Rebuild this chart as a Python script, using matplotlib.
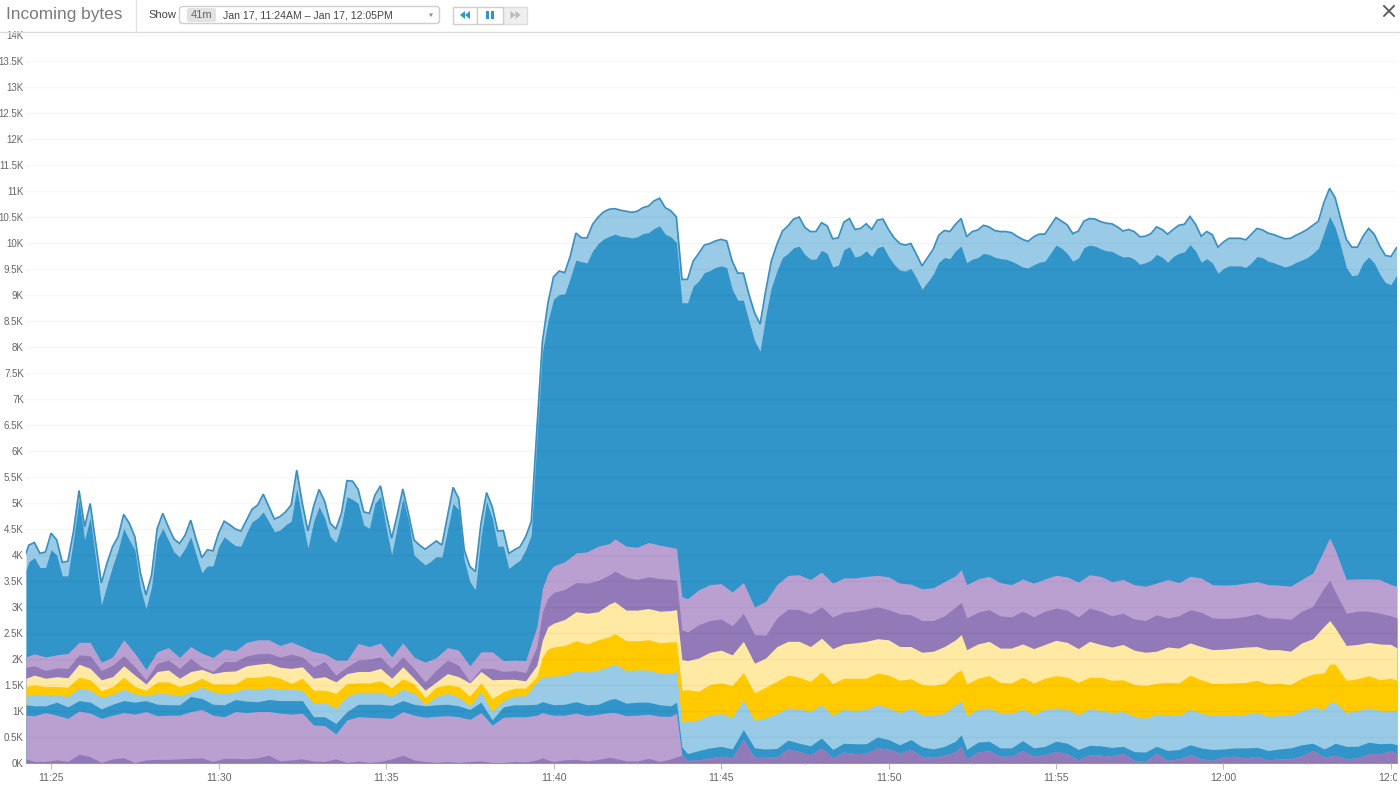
import numpy as np
import matplotlib
matplotlib.use('Agg')
import matplotlib.pyplot as plt
from matplotlib.patches import FancyBboxPatch, Rectangle, Polygon
from matplotlib.transforms import Bbox

plt.rcParams['font.family'] = ['Liberation Sans', 'DejaVu Sans']

# minutes after 11:00, top two edges are sampled every 10s
t_top = np.r_[24.25, np.arange(146, 392) / 6]
# the lower edges are read every 20s or so
t_low = np.r_[24.25, (np.arange(73, 119) + 0.5) / 3,
              39.67, 39.83, 40, 40.33, 40.67, 41, 41.33, 41.67, 41.83, 42.17, 42.5, 42.83, 43.17, 43.5, 43.67, 43.83,
              np.sort(np.r_[np.arange(132, 196) / 3, 52.17, 63.17, 65.18])]

# all values are the stacked edges in K
total_top = [4.03,
    4.19,4.24,4.03,4.06,4.42,4.29, 3.86,3.88,4.45,5.24,4.54,4.99, 4.22,3.46,3.84,4.16,4.35,4.78,
    4.61,4.35,3.65,3.23,3.62,4.51, 4.8,4.54,4.31,4.22,4.38,4.67, 4.29,3.95,4.1,4.08,4.42,4.65,
    4.58,4.5,4.46,4.67,4.88,4.96, 5.17,4.93,4.69,4.74,4.83,4.96, 5.63,4.99,4.46,4.93,5.26,5.03,
    4.61,4.5,4.8,5.43,5.42,5.26, 4.83,4.8,5.15,5.33,4.8,4.32, 4.77,5.27,4.8,4.29,4.19,4.11,
    4.19,4.27,4.19,4.74,5.3,5.09, 4.1,3.78,3.68,4.61,5.2,4.93, 4.46,4.47,4.03,4.1,4.16,4.35,
    4.64,6.4,8.1,8.85,9.35,9.46, 9.43,9.75,10.19,10.1,10.1,10.36, 10.5,10.6,10.65,10.66,10.63,10.61,
    10.59,10.61,10.68,10.71,10.81,10.86, 10.68,10.62,10.5,9.3,9.3,9.65, 9.8,9.96,9.99,10.04,10.07,10.04,
    9.65,9.42,9.42,9.01,8.66,8.44, 9.08,9.65,9.97,10.23,10.33,10.46, 10.5,10.3,10.22,10.22,10.39,10.33,
    10.08,10.1,10.4,10.47,10.26,10.28, 10.37,10.26,10.44,10.46,10.26,10.1, 9.99,9.96,9.99,9.78,9.56,9.72,
    9.88,10.15,10.24,10.22,10.36,10.47, 10.12,10.22,10.25,10.34,10.31,10.24, 10.22,10.22,10.2,10.13,10.07,10.03,
    10.12,10.17,10.17,10.33,10.49,10.42, 10.35,10.18,10.23,10.42,10.47,10.46, 10.41,10.38,10.37,10.31,10.23,10.26,
    10.22,10.12,10.13,10.18,10.31,10.26, 10.17,10.26,10.34,10.36,10.51,10.36, 10.13,10.22,10.16,9.92,10.02,10.09,
    10.09,10.09,10.06,10.17,10.28,10.25, 10.19,10.16,10.12,10.08,10.09,10.15, 10.2,10.26,10.34,10.42,10.78,11.05,
    10.87,10.46,10.07,9.92,9.92,10.13, 10.28,10.17,9.94,9.76,9.74,9.91]

blue_top = [3.71,
    3.87,3.95,3.76,3.76,4.1,4.0, 3.6,3.6,4.29,5.06,4.29,4.72, 3.9,3.04,3.42,3.78,4.1,4.51,
    4.29,4.1,3.36,2.97,3.39,4.29, 4.51,4.29,4.06,3.96,4.13,4.35, 4.0,3.66,3.79,3.79,4.16,4.35,
    4.26,4.18,4.17,4.42,4.64,4.71, 4.83,4.64,4.45,4.48,4.58,4.65, 5.28,4.67,4.13,4.64,4.93,4.71,
    4.35,4.24,4.58,5.12,5.07,4.99, 4.58,4.51,4.99,5.12,4.54,4.0, 4.54,5.09,4.67,4.0,3.9,3.81,
    3.88,3.97,3.96,4.48,4.99,4.87, 3.9,3.49,3.33,4.35,5.03,4.71, 4.17,4.17,3.74,3.83,3.9,4.1,
    4.38,6.2,7.9,8.5,8.92,9.01, 9.02,9.33,9.67,9.64,9.62,9.85, 9.99,10.08,10.13,10.17,10.13,10.12,
    10.1,10.12,10.18,10.2,10.28,10.33, 10.17,10.12,10.01,8.85,8.85,9.17, 9.27,9.43,9.47,9.53,9.56,9.53,
    9.11,8.9,8.9,8.5,8.12,7.92, 8.6,9.14,9.46,9.72,9.8,9.91, 9.94,9.78,9.69,9.69,9.86,9.8,
    9.54,9.57,9.87,9.93,9.73,9.76, 9.85,9.74,9.91,9.94,9.74,9.59, 9.48,9.46,9.51,9.33,9.11,9.25,
    9.4,9.63,9.72,9.7,9.85,9.94, 9.62,9.69,9.72,9.8,9.78,9.73, 9.7,9.69,9.65,9.6,9.54,9.52,
    9.58,9.63,9.65,9.8,9.96,9.9, 9.8,9.65,9.71,9.91,9.96,9.94, 9.89,9.85,9.84,9.78,9.73,9.74,
    9.69,9.59,9.62,9.67,9.78,9.73, 9.63,9.74,9.8,9.83,9.97,9.85, 9.63,9.7,9.62,9.42,9.51,9.56,
    9.56,9.56,9.53,9.62,9.74,9.72, 9.65,9.62,9.58,9.54,9.57,9.63, 9.67,9.72,9.8,9.9,10.2,10.51,
    10.3,9.94,9.53,9.37,9.39,9.62, 9.73,9.62,9.4,9.24,9.2,9.38]

lilac_top = [2.04,2.1,2.04,2.08,2.11,2.32,2.32,1.94,2.04,2.37,2.11,1.8,2.14,2.22,2.03,2.24,2.11,2.03,2.19,2.16,2.32,2.37,2.37,2.26,2.33,2.24,2.14,2.1,1.98,1.98,
    2.3,2.24,2.31,2.04,2.31,2.04,1.94,2.03,2.22,2.17,1.87,2.14,2.14,1.97,1.98,1.97,2.62,
    3.36,3.65,3.79,3.87,4.04,4.06,4.17,4.22,4.31,4.17,4.15,4.24,4.19,4.15,4.13,3.2,
    3.16,3.33,3.43,3.45,3.29,3.47,3.0,3.11,3.43,3.61,3.62,3.53,3.67,3.46,3.56,3.56,3.59,3.61,3.58,3.46,3.44,3.35,3.37,3.49,3.6,3.72,3.43,3.54,3.59,3.47,3.43,3.54,
    3.46,3.54,3.61,3.58,3.48,3.62,3.59,3.49,3.53,3.43,3.4,3.46,3.53,3.47,3.59,3.56,3.43,3.42,3.43,3.46,3.49,3.43,3.42,3.4,3.53,3.65,4.1,4.33,4.1,3.53,3.54,3.54,3.53,3.43,3.4]

purple_top = [1.84,1.87,1.78,1.83,1.82,2.08,2.06,1.78,1.88,2.06,1.85,1.6,1.92,1.98,1.82,2.01,1.85,1.76,1.95,1.95,2.06,2.1,2.11,2.04,2.09,2.04,1.85,1.95,1.69,1.85,
    1.98,2.0,2.04,1.82,2.04,1.82,1.56,1.79,1.98,1.88,1.56,1.82,1.82,1.76,1.78,1.74,2.24,
    2.91,3.17,3.28,3.34,3.47,3.46,3.51,3.62,3.69,3.57,3.53,3.58,3.55,3.53,3.51,2.56,
    2.52,2.66,2.74,2.77,2.64,2.88,2.47,2.46,2.79,2.96,2.95,2.87,3.0,2.81,2.9,2.92,2.96,3.0,2.95,2.87,2.85,2.74,2.74,2.83,3.0,3.09,2.79,2.9,2.95,2.83,2.81,2.92,
    2.81,2.92,2.98,2.94,2.81,2.98,2.92,2.83,2.88,2.77,2.74,2.85,2.79,2.83,2.95,2.9,2.79,2.78,2.79,2.82,2.87,2.79,2.79,2.76,2.92,3.01,3.37,3.51,3.3,2.88,2.92,2.92,2.88,2.83,2.79]

pale_top = [1.63,1.69,1.63,1.66,1.64,1.9,1.82,1.6,1.66,1.87,1.69,1.52,1.76,1.79,1.63,1.76,1.8,1.72,1.76,1.77,1.87,1.9,1.92,1.84,1.82,1.85,1.63,1.66,1.56,1.72,
    1.76,1.76,1.82,1.63,1.85,1.63,1.4,1.56,1.72,1.66,1.54,1.76,1.6,1.61,1.61,1.58,1.88,
    2.37,2.62,2.69,2.76,2.91,2.88,2.91,3.06,3.1,2.94,2.94,2.97,2.92,2.93,2.95,1.99,
    1.97,2.02,2.13,2.17,2.08,2.34,1.92,2.02,2.24,2.34,2.34,2.24,2.4,2.2,2.29,2.31,2.34,2.39,2.37,2.24,2.24,2.13,2.15,2.24,2.37,2.47,2.18,2.29,2.34,2.21,2.21,2.29,
    2.2,2.28,2.36,2.32,2.2,2.34,2.28,2.23,2.28,2.17,2.13,2.15,2.23,2.21,2.31,2.24,2.18,2.19,2.21,2.23,2.24,2.18,2.18,2.15,2.31,2.39,2.63,2.74,2.6,2.26,2.28,2.32,2.29,2.28,2.21]

gold_top = [1.47,1.5,1.47,1.47,1.46,1.65,1.6,1.39,1.47,1.65,1.47,1.4,1.56,1.56,1.47,1.53,1.63,1.52,1.52,1.52,1.65,1.65,1.68,1.63,1.53,1.63,1.4,1.4,1.34,1.53,
    1.54,1.54,1.58,1.45,1.62,1.52,1.26,1.46,1.5,1.47,1.29,1.54,1.24,1.37,1.44,1.44,1.66,
    2.04,2.19,2.23,2.26,2.35,2.29,2.37,2.43,2.49,2.35,2.35,2.37,2.31,2.33,2.33,1.4,
    1.41,1.38,1.51,1.54,1.49,1.74,1.35,1.46,1.57,1.69,1.65,1.57,1.75,1.53,1.63,1.63,1.63,1.73,1.69,1.59,1.62,1.51,1.49,1.53,1.73,1.79,1.52,1.63,1.68,1.55,1.54,1.65,
    1.54,1.63,1.68,1.65,1.55,1.65,1.65,1.59,1.6,1.51,1.49,1.53,1.55,1.54,1.69,1.6,1.53,1.53,1.54,1.55,1.59,1.52,1.53,1.51,1.63,1.71,1.73,1.9,1.9,1.59,1.62,1.68,1.6,1.63,1.59]

sky_top = [1.29,1.32,1.32,1.31,1.28,1.44,1.4,1.26,1.32,1.42,1.33,1.29,1.34,1.33,1.29,1.37,1.46,1.37,1.34,1.37,1.44,1.42,1.45,1.42,1.42,1.4,1.15,1.17,1.05,1.28,
    1.36,1.36,1.36,1.28,1.42,1.34,1.12,1.28,1.34,1.27,1.1,1.37,0.99,1.2,1.29,1.29,1.56,
    1.66,1.67,1.67,1.69,1.78,1.75,1.79,1.86,1.91,1.78,1.79,1.79,1.73,1.73,1.76,0.79,
    0.8,0.83,0.93,0.95,0.88,1.21,0.82,0.87,0.95,1.06,1.04,0.99,1.12,0.92,1.03,1.01,1.03,1.12,1.06,0.97,1.06,0.92,0.92,0.96,1.12,1.19,0.91,1.03,1.06,0.96,0.95,1.04,
    0.93,1.03,1.06,1.03,0.93,1.04,1.01,0.97,0.99,0.9,0.86,0.94,0.93,0.91,1.03,0.96,0.91,0.92,0.92,0.94,0.97,0.9,0.91,0.92,1.01,1.07,1.04,1.17,1.17,0.97,1.01,1.06,1.01,1.01,1.01]

steel_top = [1.12,1.1,1.1,1.17,1.08,1.2,1.17,1.04,1.13,1.2,1.17,1.2,1.13,1.12,1.12,1.28,1.24,1.13,1.12,1.22,1.19,1.18,1.22,1.2,1.2,1.2,0.89,0.89,0.76,0.99,
    1.13,1.13,1.13,1.11,1.2,1.13,1.1,1.12,1.13,1.1,1.03,1.17,0.83,1.08,1.12,1.12,1.13,
    1.18,1.15,1.12,1.13,1.18,1.12,1.13,1.22,1.24,1.15,1.17,1.17,1.12,1.1,1.17,0.31,
    0.18,0.24,0.29,0.32,0.27,0.64,0.29,0.27,0.28,0.44,0.38,0.33,0.48,0.26,0.38,0.37,0.37,0.5,0.45,0.35,0.45,0.31,0.27,0.32,0.42,0.54,0.26,0.4,0.42,0.29,0.29,0.43,
    0.29,0.32,0.42,0.38,0.26,0.34,0.33,0.3,0.32,0.22,0.21,0.32,0.24,0.26,0.35,0.29,0.26,0.27,0.29,0.29,0.3,0.24,0.27,0.29,0.35,0.38,0.27,0.32,0.38,0.32,0.32,0.4,0.37,0.38,0.35]

# after 11:44 the two bottom edges sit on each other
bottom_late = [0.05,0.06,0.1,0.13,0.1,0.45,0.11,0.11,0.12,0.27,0.22,0.16,0.29,0.1,0.21,0.18,0.19,0.29,0.27,0.19,0.26,0.13,0.11,0.15,0.22,0.32,0.08,0.21,0.24,0.13,0.13,0.24,
    0.13,0.16,0.22,0.18,0.06,0.16,0.15,0.13,0.19,0.05,0.03,0.19,0.05,0.08,0.16,0.08,0.05,0.12,0.13,0.1,0.13,0.06,0.08,0.08,0.14,0.24,0.12,0.13,0.15,0.08,0.1,0.18,0.18,0.24,0.16]

mauve_top = [0.92,0.91,0.97,0.92,0.86,1.0,0.96,0.86,0.92,0.97,0.94,0.99,0.91,0.92,0.92,0.99,1.03,0.92,0.89,0.99,0.97,0.99,0.99,0.96,0.94,0.96,0.73,0.72,0.56,0.83,
    0.89,0.88,0.87,0.86,0.99,0.92,0.88,0.9,0.91,0.89,0.84,0.97,0.73,0.88,0.89,0.89,0.92,
    0.97,0.94,0.92,0.92,0.96,0.91,0.94,0.97,0.97,0.91,0.92,0.94,0.9,0.9,0.96,0.15] + bottom_late

violet_top = [0.08,0.03,0.03,0.06,0.03,0.17,0.12,0.01,0.08,0.1,0.01,0.06,0.07,0.07,0.08,0.09,0.1,0.03,0.09,0.09,0.08,0.1,0.15,0.04,0.06,0.08,0.04,0.03,0.08,0.01,
    0.04,0.01,0.03,0.08,0.15,0.06,0.03,0.01,0.03,0.01,0.03,0.04,0.01,0.01,0.03,0.02,0.06,
    0.1,0.06,0.03,0.06,0.07,0.04,0.07,0.11,0.09,0.04,0.04,0.09,0.03,0.08,0.12,0.15] + bottom_late

y_ticks = np.arange(0, 14.5, 0.5)
y_labels = ['%gK' % v for v in y_ticks]
x_ticks = [25, 30, 35, 40, 45, 50, 55, 60, 65]
x_labels = ['11:25', '11:30', '11:35', '11:40', '11:45', '11:50', '11:55', '12:00', '12:05']

BLUE = '#3195c9'
SKY = '#9acbe6'
GOLD = '#ffca00'
PALE = '#ffe9a3'
PURPLE = '#917ab7'
LILAC = '#b9a0d1'

W, H = 1400, 785
fig = plt.figure(figsize=(W / 100, H / 100), dpi=100)
fig.patch.set_facecolor('white')

# chart area, pixel box 26..1397 x 35..763
ax = fig.add_axes([26 / W, (H - 763) / H, (1397 - 26) / W, (763 - 35) / H])
ax.set_xlim(24.25, 65.18)
ax.set_ylim(0, 14)

# painted from the top edge downwards, every fill starts at zero
ax.fill_between(t_top, 0, total_top, color=SKY, lw=0, zorder=2)
ax.fill_between(t_top, 0, blue_top, color=BLUE, lw=0, zorder=2)
for edge, col in [(lilac_top, LILAC), (purple_top, PURPLE), (pale_top, PALE), (gold_top, GOLD),
                  (sky_top, SKY), (steel_top, BLUE), (mauve_top, LILAC), (violet_top, PURPLE)]:
    ax.fill_between(t_low, 0, edge, color=col, lw=0, zorder=2)
ax.plot(t_top, total_top, color='#3a8fbf', lw=1.25, zorder=3, solid_joinstyle='miter')

for s in ax.spines.values():
    s.set_visible(False)
ax.set_yticks(y_ticks)
ax.set_yticklabels(y_labels)
ax.set_xticks(x_ticks)
ax.set_xticklabels(x_labels)
ax.set_xticks(np.arange(27.5, 65, 5), minor=True)
ax.grid(axis='y', color='black', alpha=0.035, lw=1, zorder=4)
ax.set_axisbelow(False)
ax.tick_params(axis='y', length=0, pad=1.5, labelsize=7, labelcolor='#666666')
ax.tick_params(axis='x', length=4, width=0.8, color='#bbbbbb', pad=3, labelsize=7.6, labelcolor='#666666')
ax.tick_params(axis='x', which='minor', length=1.5, width=0.6, color='#dddddd')
for lab in ax.get_xticklabels():
    lab.set_clip_box(Bbox([[0, 0], [1397, H]]))
    lab.set_clip_on(True)

# header strip in pixel coordinates
top = fig.add_axes([0, 0, 1, 1], facecolor='none')
top.set_xlim(0, W)
top.set_ylim(H, 0)
top.axis('off')
top.add_patch(Rectangle((0, 0), W, 31, fc='white', ec='none'))
top.plot([0, W], [31.5, 31.5], color='#dcdcdc', lw=1)
top.plot([135.5, 135.5], [0, 31], color='#e4e4e4', lw=1)
top.text(6, 15, 'Incoming bytes', fontsize=12.4, color='#7a7a7a', va='center')
top.text(148, 15, 'Show', fontsize=8, color='#444444', va='center')

top.add_patch(FancyBboxPatch((179.5, 6.5), 260, 17, boxstyle='round,pad=0,rounding_size=3', fc='white', ec='#cfcfcf', lw=1))
top.add_patch(FancyBboxPatch((187, 8), 29, 14, boxstyle='round,pad=0,rounding_size=2', fc='#e2e2e2', ec='none'))
top.text(201.5, 15, '41m', fontsize=8, color='#666666', va='center', ha='center')
top.text(223, 15, 'Jan 17, 11:24AM – Jan 17, 12:05PM', fontsize=7.6, color='#444444', va='center')
top.add_patch(Polygon([(429, 13.5), (433, 13.5), (431, 17)], fc='#888888', ec='none'))

# rewind / pause / forward buttons
top.add_patch(Rectangle((503, 6.5), 24, 17, fc='#efefef', ec='#dddddd', lw=1))
top.add_patch(Rectangle((452.5, 6.5), 24, 17, fc='white', ec='#cfcfcf', lw=1))
top.add_patch(Rectangle((477, 6.5), 25.5, 17, fc='white', ec='#cfcfcf', lw=1))
for x0 in [460, 465]:
    top.add_patch(Polygon([(x0 + 5, 11), (x0 + 5, 19), (x0, 15)], fc='#3195c9', ec='none'))
for x0 in [485.5, 490.5]:
    top.add_patch(Rectangle((x0, 11), 3.5, 8, fc='#3195c9', ec='none'))
for x0 in [510.5, 515.5]:
    top.add_patch(Polygon([(x0, 11), (x0, 19), (x0 + 5, 15)], fc='#bbbbbb', ec='none'))

top.plot([1384, 1394], [6, 16], color='#555555', lw=1.3)
top.plot([1384, 1394], [16, 6], color='#555555', lw=1.3)

fig.savefig('out.png', dpi=100)
